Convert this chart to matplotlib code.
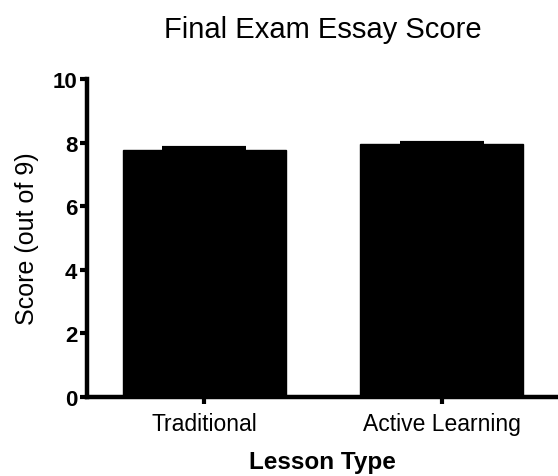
import matplotlib
matplotlib.use('Agg')
import matplotlib.pyplot as plt

lessons = ['Traditional', 'Active Learning']
scores = [7.78, 7.96]
errors = [0.04, 0.03]

plt.rcParams['font.family'] = ['Liberation Sans', 'DejaVu Sans']

fig = plt.figure(figsize=(5.58, 4.77), dpi=100)
ax = fig.add_axes([0.156, 0.166, 0.844, 0.666])

x = range(len(lessons))
ax.bar(x, scores, width=0.686, color='black', edgecolor='black')
ax.errorbar(x, scores, yerr=errors, fmt='none', ecolor='black',
            elinewidth=2, capsize=30, capthick=3)

ax.set_xlim(-0.495, 1.49)
ax.set_ylim(0, 10)
ax.set_yticks([0, 2, 4, 6, 8, 10])
ax.set_xticks(list(x))
ax.set_xticklabels(lessons, fontsize=16.5)
for lab in ax.get_yticklabels():
    lab.set_fontweight('bold')
    lab.set_fontsize(16)

for side in ['top', 'right']:
    ax.spines[side].set_visible(False)
for side in ['left', 'bottom']:
    ax.spines[side].set_linewidth(3.2)
ax.tick_params(axis='both', width=3, length=5, direction='out')
ax.tick_params(axis='x', pad=6)
ax.tick_params(axis='y', pad=2)

ax.set_ylabel('Score (out of 9)', fontsize=18, labelpad=10)
ax.set_xlabel('Lesson Type', fontsize=17.5, fontweight='bold', labelpad=11)
ax.set_title('Final Exam Essay Score', fontsize=21, pad=30)

fig.savefig('out.png', dpi=100)
